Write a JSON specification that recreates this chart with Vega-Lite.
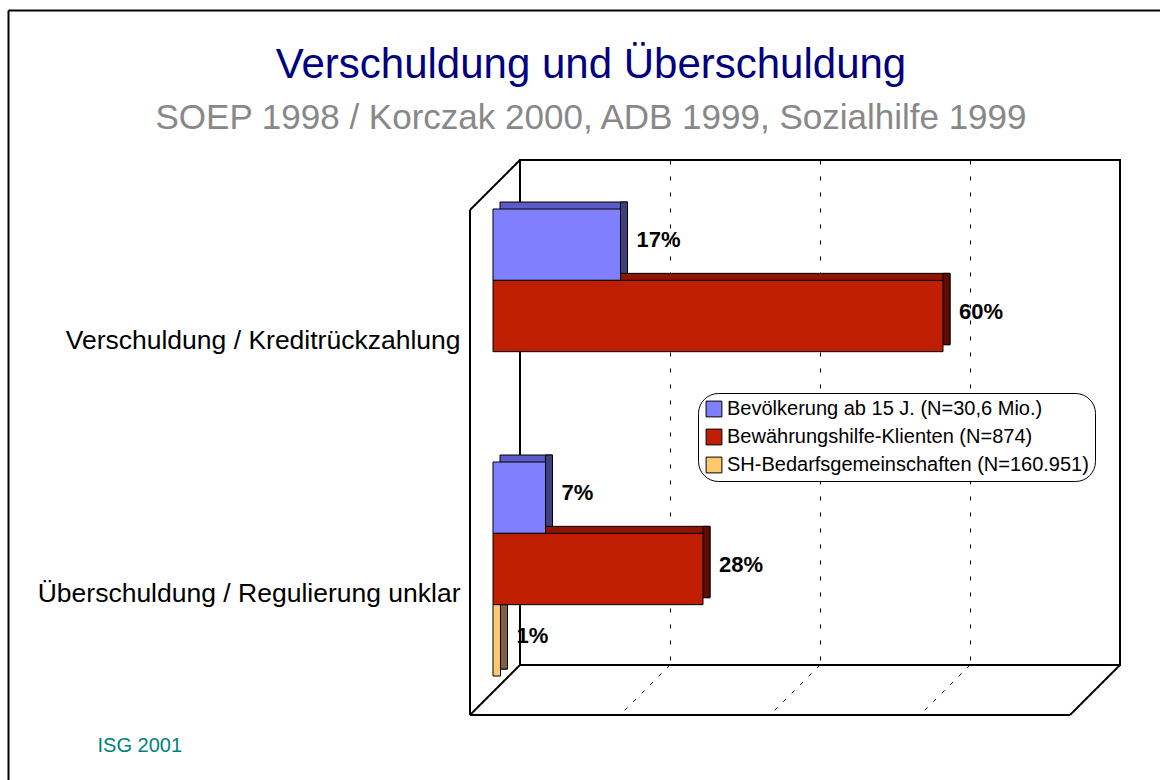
{
  "$schema": "https://vega.github.io/schema/vega-lite/v6.json",
  "width": 600,
  "height": 505,
  "autosize": "none",
  "padding": {"left": 520, "top": 160, "right": 40, "bottom": 115},
  "background": "white",
  "config": {"font": "Liberation Sans", "view": {"stroke": "black", "strokeWidth": 2}},
  "title": {
    "text": "Verschuldung und Überschuldung",
    "subtitle": "SOEP 1998 / Korczak 2000, ADB 1999, Sozialhilfe 1999",
    "anchor": "middle",
    "frame": "group",
    "dx": -229,
    "dy": 149,
    "fontSize": 42,
    "fontWeight": "normal",
    "color": "#000080",
    "subtitleFontSize": 35,
    "subtitleColor": "#888888",
    "subtitlePadding": 14,
    "offset": 22
  },
  "datasets": {
    "bars": [
      {"cat": "Verschuldung / Kreditrückzahlung", "series": "Bevölkerung ab 15 J. (N=30,6 Mio.)", "value": 17, "label": "17%"},
      {"cat": "Verschuldung / Kreditrückzahlung", "series": "Bewährungshilfe-Klienten (N=874)", "value": 60, "label": "60%"},
      {"cat": "Überschuldung / Regulierung unklar", "series": "Bevölkerung ab 15 J. (N=30,6 Mio.)", "value": 7, "label": "7%"},
      {"cat": "Überschuldung / Regulierung unklar", "series": "Bewährungshilfe-Klienten (N=874)", "value": 28, "label": "28%"},
      {"cat": "Überschuldung / Regulierung unklar", "series": "SH-Bedarfsgemeinschaften (N=160.951)", "value": 1, "label": "1%"}
    ],
    "frame": [
      {"fx": 0, "fy": 100, "fx2": -6.667, "fy2": 90.1, "kind": "solid"},
      {"fx": -6.667, "fy": 90.1, "fx2": -6.667, "fy2": -9.9, "kind": "solid"},
      {"fx": -6.667, "fy": -9.9, "fx2": 73.333, "fy2": -9.9, "kind": "solid"},
      {"fx": 73.333, "fy": -9.9, "fx2": 80, "fy2": 0, "kind": "solid"},
      {"fx": 0, "fy": 0, "fx2": -6.667, "fy2": -9.9, "kind": "solid"},
      {"fx": 20, "fy": 0, "fx2": 13.333, "fy2": -9.9, "kind": "dashed"},
      {"fx": 40, "fy": 0, "fx2": 33.333, "fy2": -9.9, "kind": "dashed"},
      {"fx": 60, "fy": 0, "fx2": 53.333, "fy2": -9.9, "kind": "dashed"},
      {"fx": -68.2, "fy": 129.6, "fx2": 86, "fy2": 129.6, "kind": "solid"},
      {"fx": -68.2, "fy": 129.6, "fx2": -68.2, "fy2": -24, "kind": "solid"}
    ]
  },
  "resolve": {"scale": {"y": "independent"}},
  "layer": [
    {
      "data": {"name": "frame"},
      "mark": {"type": "rule", "color": "black"},
      "encoding": {
        "x": {"field": "fx", "type": "quantitative", "scale": {"domain": [0, 80], "nice": false},
          "axis": {"grid": true, "gridColor": "black", "gridDash": [4, 12], "gridWidth": 1, "values": [20, 40, 60], "labels": false, "ticks": false, "domain": false,
            "title": "ISG 2001", "titleColor": "#008080", "titleFontSize": 20, "titleFontWeight": "normal", "titleAnchor": "start", "titleAlign": "left", "titleX": -423, "titleY": 86, "titleBaseline": "alphabetic"}},
        "x2": {"field": "fx2"},
        "y": {"field": "fy", "type": "quantitative", "scale": {"domain": [0, 100], "nice": false, "zero": false}, "axis": null},
        "y2": {"field": "fy2"},
        "strokeDash": {"field": "kind", "type": "nominal", "scale": {"domain": ["solid", "dashed"], "range": [[1, 0], [4, 8]]}, "legend": null},
        "strokeWidth": {"field": "kind", "type": "nominal", "scale": {"domain": ["solid", "dashed"], "range": [2, 1]}, "legend": null}
      }
    },
    {
      "data": {"name": "bars"},
      "encoding": {
        "x": {"field": "value", "type": "quantitative", "scale": {"domain": [0, 80], "nice": false},
          "axis": {"grid": true, "gridColor": "black", "gridDash": [4, 12], "gridWidth": 1, "values": [20, 40, 60], "labels": false, "ticks": false, "domain": false,
            "title": "ISG 2001", "titleColor": "#008080", "titleFontSize": 20, "titleFontWeight": "normal", "titleAnchor": "start", "titleAlign": "left", "titleX": -423, "titleY": 86, "titleBaseline": "alphabetic"}},
        "y": {"field": "cat", "type": "nominal", "sort": ["Verschuldung / Kreditrückzahlung", "Überschuldung / Regulierung unklar"],
          "scale": {"paddingInner": 0.154, "paddingOuter": 0.075, "align": 0.58},
          "axis": {"title": null, "domain": false, "ticks": false, "labelFontSize": 26.5, "labelColor": "black", "labelPadding": 60, "labelOffset": 52, "labelLimit": 0}}
      },
      "resolve": {"scale": {"color": "independent", "yOffset": "independent"}},
      "layer": [
        {
          "mark": {"type": "bar", "xOffset": -20, "x2Offset": -20, "stroke": "black", "strokeWidth": 1},
          "encoding": {
            "yOffset": {"field": "series", "type": "nominal", "scale": {"domain": ["Bevölkerung ab 15 J. (N=30,6 Mio.)", "Bewährungshilfe-Klienten (N=874)", "SH-Bedarfsgemeinschaften (N=160.951)"], "range": [20, 234], "paddingInner": 0, "paddingOuter": 0}},
            "color": {"field": "series", "type": "nominal", "scale": {"domain": ["Bevölkerung ab 15 J. (N=30,6 Mio.)", "Bewährungshilfe-Klienten (N=874)", "SH-Bedarfsgemeinschaften (N=160.951)"], "range": ["#5C5CC8", "#8E1500", "#C8A060"]}, "legend": null}}
        },
        {
          "mark": {"type": "bar", "xOffset": -27, "x2Offset": -20, "stroke": "black", "strokeWidth": 1},
          "encoding": {
            "x2": {"field": "value"},
            "yOffset": {"field": "series", "type": "nominal", "scale": {"domain": ["Bevölkerung ab 15 J. (N=30,6 Mio.)", "Bewährungshilfe-Klienten (N=874)", "SH-Bedarfsgemeinschaften (N=160.951)"], "range": [20, 234], "paddingInner": 0, "paddingOuter": 0}},
            "color": {"field": "series", "type": "nominal", "scale": {"domain": ["Bevölkerung ab 15 J. (N=30,6 Mio.)", "Bewährungshilfe-Klienten (N=874)", "SH-Bedarfsgemeinschaften (N=160.951)"], "range": ["#404080", "#600C00", "#806040"]}, "legend": null}}
        },
        {
          "mark": {"type": "bar", "xOffset": -27, "x2Offset": -27, "stroke": "black", "strokeWidth": 1},
          "encoding": {
            "yOffset": {"field": "series", "type": "nominal", "scale": {"domain": ["Bevölkerung ab 15 J. (N=30,6 Mio.)", "Bewährungshilfe-Klienten (N=874)", "SH-Bedarfsgemeinschaften (N=160.951)"], "range": [27, 241], "paddingInner": 0, "paddingOuter": 0}},
            "color": {"field": "series", "type": "nominal", "scale": {"domain": ["Bevölkerung ab 15 J. (N=30,6 Mio.)", "Bewährungshilfe-Klienten (N=874)", "SH-Bedarfsgemeinschaften (N=160.951)"], "range": ["#8080FF", "#C01E00", "#FFC86E"]},
            "legend": {"orient": "none", "legendX": 178, "legendY": 233, "title": null, "labelFontSize": 20, "labelColor": "black", "symbolType": "square", "symbolSize": 250, "symbolStrokeColor": "black", "symbolStrokeWidth": 1, "symbolOpacity": 1, "strokeColor": "black", "cornerRadius": 20, "padding": 6, "rowPadding": 8, "labelOffset": 3, "fillColor": "white", "labelLimit": 0}}}
        },
        {
          "mark": {"type": "text", "align": "left", "baseline": "middle", "xOffset": -11, "fontWeight": "bold", "fontSize": 22, "color": "black"},
          "encoding": {
            "yOffset": {"field": "series", "type": "nominal", "scale": {"domain": ["Bevölkerung ab 15 J. (N=30,6 Mio.)", "Bewährungshilfe-Klienten (N=874)", "SH-Bedarfsgemeinschaften (N=160.951)"], "range": [58, 201], "padding": 0}},
            "text": {"field": "label"}}
        }
      ]
    }
  ]
}
